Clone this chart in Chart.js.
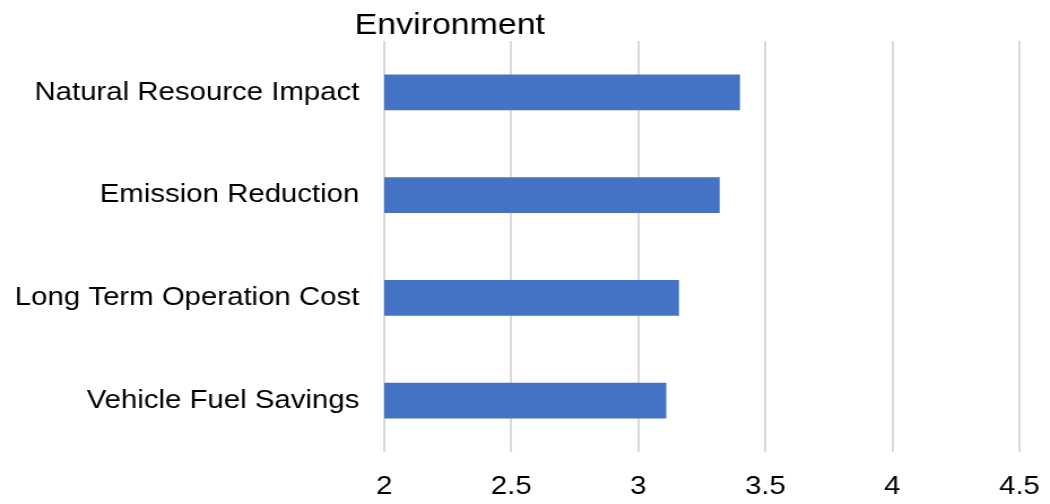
<!DOCTYPE html>
<html>
<head>
<meta charset="utf-8">
<script src="https://cdn.jsdelivr.net/npm/chart.js@4/dist/chart.umd.min.js"></script>
<style>
  html, body { margin: 0; padding: 0; background: #fff; overflow: hidden; }
  /* the chart is laid out narrower, then widened to fill the window */
  #wrap { width: 929px; height: 504px; transform: scaleX(1.1302); transform-origin: 0 0; }
</style>
</head>
<body>
<div id="wrap"><canvas id="grafico" width="929" height="504"></canvas></div>
<script>
// ── dados ─────────────────────────────────────────
const categorias = [
  'Natural Resource Impact',
  'Emission Reduction',
  'Long Term Operation Cost',
  'Vehicle Fuel Savings',
];
const medias = [3.40, 3.32, 3.16, 3.11];
const titulo = 'Environment';
const eixoMin = 2, eixoMax = 4.5, eixoPasso = 0.5;

const FONTE = '"Liberation Sans", Arial, sans-serif';

// título desenhado à mão, um pouco à esquerda do centro
const tituloPlugin = {
  id: 'tituloManual',
  afterDraw(chart) {
    const ctx = chart.ctx;
    ctx.save();
    ctx.font = `30px ${FONTE}`;
    ctx.fillStyle = '#000';
    ctx.textAlign = 'center';
    ctx.textBaseline = 'alphabetic';
    ctx.fillText(titulo, 398, 34);
    ctx.restore();
  },
};

new Chart(document.getElementById('grafico').getContext('2d'), {
  type: 'bar',
  data: {
    labels: categorias,
    datasets: [{
      data: medias,
      backgroundColor: '#4472C4',
      borderWidth: 0,
      categoryPercentage: 1,
      barPercentage: 0.35,
    }],
  },
  options: {
    indexAxis: 'y',
    responsive: false,
    animation: false,
    layout: { padding: { top: 41, left: 10, right: 27, bottom: 0 } },
    plugins: { legend: { display: false }, tooltip: { enabled: false } },
    scales: {
      x: {
        min: eixoMin, max: eixoMax,
        afterFit: s => { s.height = 52; s.paddingLeft = 0; s.paddingRight = 0; },
        ticks: { stepSize: eixoPasso, color: '#000', font: { family: FONTE, size: 26 }, padding: 19, maxRotation: 0,
                 callback: v => String(v) },
        grid: { color: '#d9d9d9', lineWidth: 2, drawTicks: false },
        border: { display: false },
      },
      y: {
        afterFit: s => { s.width = 330; },
        ticks: { color: '#000', font: { family: FONTE, size: 26 }, padding: 22 },
        grid: { display: false, drawTicks: false },
        border: { display: false },
      },
    },
  },
  plugins: [tituloPlugin],
});
</script>
</body>
</html>
